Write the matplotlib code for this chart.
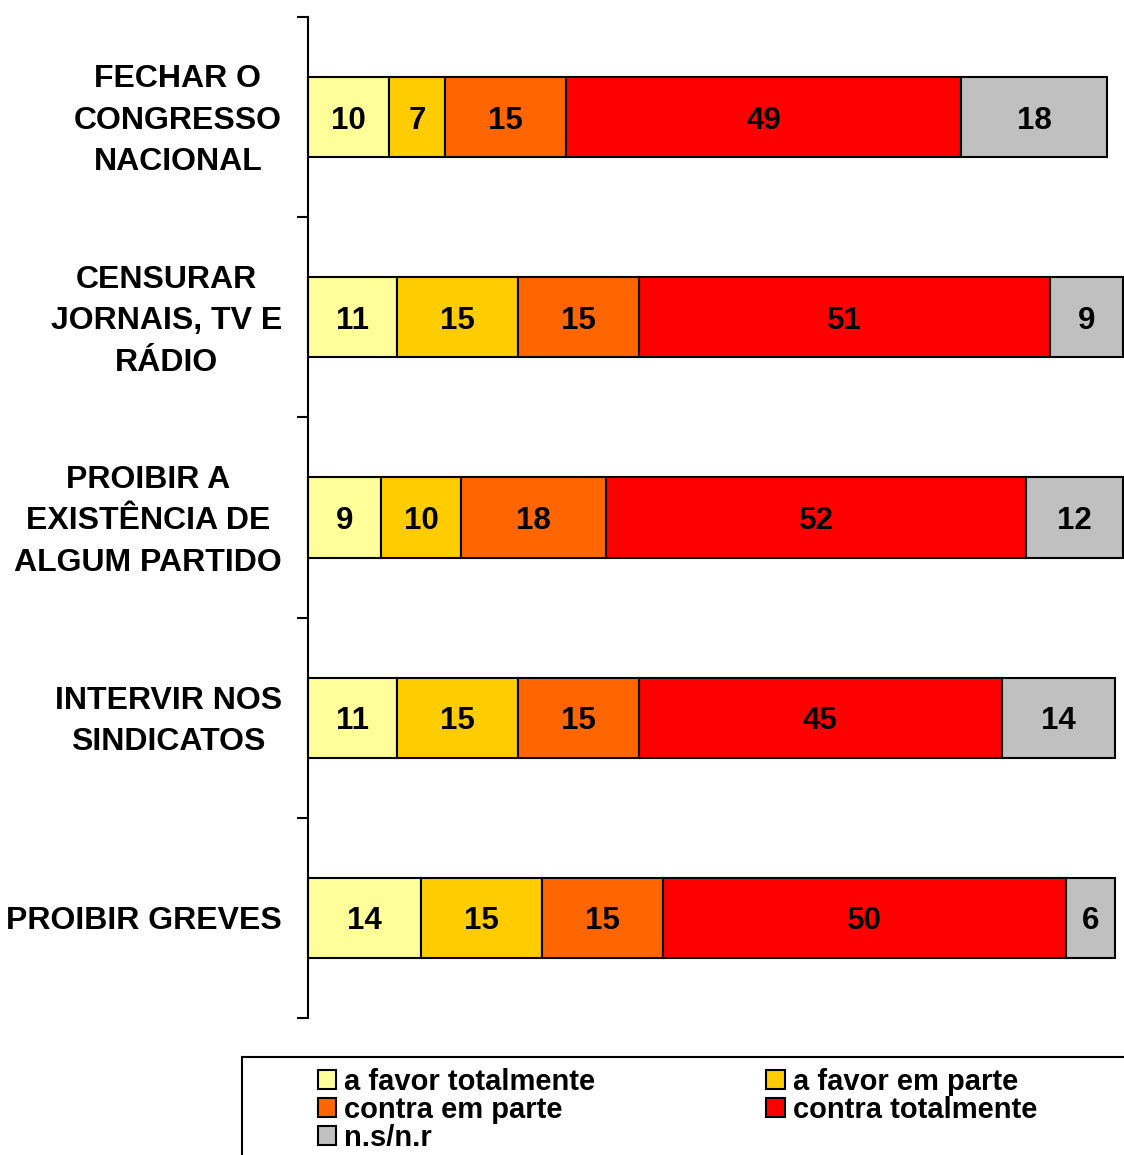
import numpy as np
import matplotlib
matplotlib.use("Agg")
import matplotlib.pyplot as plt
from matplotlib.patches import Patch, Rectangle

plt.rcParams['font.family'] = ['Liberation Sans', 'DejaVu Sans']

# perguntas e respostas (%)
categorias = ["FECHAR O\nCONGRESSO\nNACIONAL",
              "CENSURAR\nJORNAIS, TV E\nRÁDIO",
              "PROIBIR A\nEXISTÊNCIA DE\nALGUM PARTIDO",
              "INTERVIR NOS\nSINDICATOS",
              "PROIBIR GREVES"]
series = ["a favor totalmente", "a favor em parte", "contra em parte",
          "contra totalmente", "n.s/n.r"]
a_favor_total = [10, 11, 9, 11, 14]
a_favor_parte = [7, 15, 10, 15, 15]
contra_parte = [15, 15, 18, 15, 15]
contra_total = [49, 51, 52, 45, 50]
ns_nr = [18, 9, 12, 14, 6]
cores = ["#FFFF99", "#FFCC00", "#FF6600", "#FF0000", "#C0C0C0"]

valores = np.array([a_favor_total, a_favor_parte, contra_parte, contra_total, ns_nr])

fig = plt.figure(figsize=(11.24, 11.55), dpi=100)
ax = fig.add_axes([308/1124, 137/1155, 1 - 308/1124, (1018 - 17)/1155])

y = np.arange(len(categorias))
esq = np.zeros(len(categorias))
handles = []
for k, nome in enumerate(series):
    ax.barh(y, valores[k], left=esq, height=0.4, color=cores[k],
            edgecolor='black', linewidth=1.5, clip_on=False)
    for i, v in enumerate(valores[k]):
        ax.text(esq[i] + v / 2, y[i], str(v), ha='center', va='center_baseline',
                fontsize=22.5, fontweight='bold')
    esq += valores[k]
    handles.append(Patch(facecolor=cores[k], edgecolor='black', linewidth=1.5, label=nome))

ax.set_xlim(0, 101.15)
ax.set_ylim(4.5, -0.5)
ax.set_xticks([])
ax.set_yticks([])
# rótulos das perguntas, alinhados à direita do eixo
for i, rot in enumerate(categorias):
    desl = 0.027 if '\n' in rot else 0.0
    ax.text(-26/816, y[i] - desl, rot, transform=ax.get_yaxis_transform(),
            ha='right', va='center_baseline', multialignment='center',
            fontsize=23, fontweight='bold', linespacing=1.5)
ax.set_yticks(np.arange(-0.5, 5, 1), minor=True)
ax.tick_params(axis='y', which='minor', length=8, width=1.5, direction='out')
for s in ['top', 'right', 'bottom']:
    ax.spines[s].set_visible(False)
ax.spines['left'].set_linewidth(1.5)

# moldura da legenda
fig.patches.append(Rectangle((242/1124, -0.05), 1.0, (1155 - 1057)/1155 + 0.05,
                             transform=fig.transFigure, fill=False,
                             edgecolor='black', linewidth=1.5))

ordem = [0, 2, 4, 1, 3]
fig.legend([handles[i] for i in ordem], [series[i] for i in ordem],
           loc='upper left', bbox_to_anchor=(303/1124, 1 - 1053/1155),
           ncol=2, frameon=False,
           prop={'family': ['Liberation Sans', 'DejaVu Sans'],
                 'weight': 'bold', 'size': 21},
           handlelength=0.62, handleheight=0.62, handletextpad=0.3,
           columnspacing=5.86, labelspacing=0.0, borderpad=0)

fig.savefig("out.png", dpi=100)
